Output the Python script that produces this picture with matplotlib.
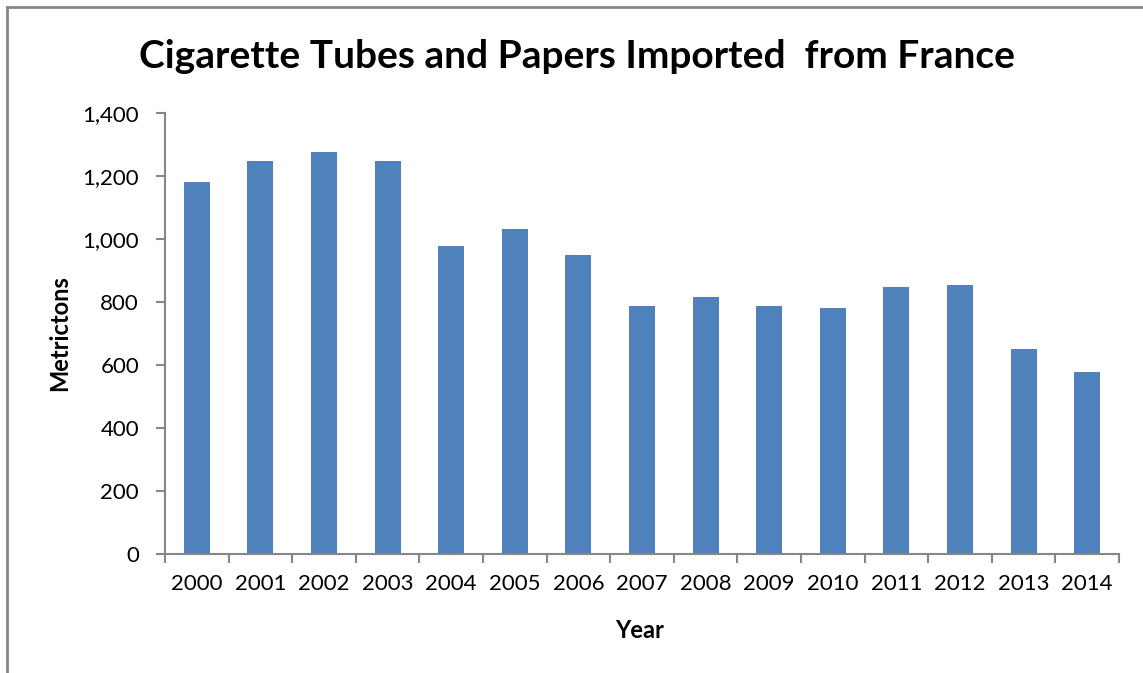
import matplotlib
matplotlib.use("Agg")
import matplotlib.pyplot as plt
from matplotlib.lines import Line2D
from matplotlib.ticker import FuncFormatter, FixedLocator

years = ["2000", "2001", "2002", "2003", "2004", "2005", "2006", "2007",
         "2008", "2009", "2010", "2011", "2012", "2013", "2014"]
metric_tons = [1181, 1247, 1275, 1247, 977, 1031, 949, 787,
               815, 787, 780, 847, 853, 650, 577]

title = "Cigarette Tubes and Papers Imported  from France"
x_label = "Year"
y_label = "Metrictons"

bar_color = "#4F81BD"
axis_color = "#868686"
font = ["Lato", "DejaVu Sans"]

W, H = 1143, 673
PT = 72 / 100  # points per pixel at 100 dpi

fig = plt.figure(figsize=(W / 100, H / 100), dpi=100)
fig.patch.set_facecolor("white")

# outer chart frame (left and top edges visible)
fig.add_artist(Line2D([7 / W, 7 / W], [0, 1 - 7 / H], transform=fig.transFigure,
                      color=axis_color, lw=2))
fig.add_artist(Line2D([7 / W, 1], [1 - 7 / H, 1 - 7 / H], transform=fig.transFigure,
                      color=axis_color, lw=2))

left, right = 165 / W, 1119 / W
bottom, top = 1 - 554 / H, 1 - 112.7 / H
ax = fig.add_axes([left, bottom, right - left, top - bottom])

x = list(range(len(years)))
ax.bar(x, metric_tons, width=0.41, color=bar_color, zorder=2)

ax.set_xlim(-0.5, len(years) - 0.5)
ax.set_ylim(0, 1400)
ax.set_yticks(range(0, 1401, 200))
ax.yaxis.set_major_formatter(FuncFormatter(lambda v, p: f"{int(v):,}"))

ax.set_xticks(x)
ax.set_xticklabels(years)
ax.xaxis.set_minor_locator(FixedLocator([i - 0.5 for i in range(len(years) + 1)]))
ax.tick_params(axis="x", which="major", length=0, pad=20 * PT)
ax.tick_params(axis="x", which="minor", length=9 * PT, width=1.5, color=axis_color)
ax.tick_params(axis="y", length=9 * PT, width=1.5, color=axis_color, pad=17 * PT)

for lbl in ax.get_xticklabels() + ax.get_yticklabels():
    lbl.set_fontfamily(font)
    lbl.set_fontsize(16)

for side in ("top", "right"):
    ax.spines[side].set_visible(False)
for side in ("left", "bottom"):
    ax.spines[side].set_color(axis_color)
    ax.spines[side].set_linewidth(1.5)

fig.text(640 / W, 1 - 630 / H, x_label, ha="center", va="center",
         fontfamily=font, fontsize=17, fontweight="bold")
fig.text(60 / W, 1 - 333 / H, y_label, ha="center", va="center", rotation=90,
         fontfamily=font, fontsize=17, fontweight="bold")

fig.text(577 / W, 1 - 56 / H, title, ha="center", va="center",
         fontfamily=font, fontsize=28, fontweight="bold")

fig.savefig("out.png", dpi=100, facecolor="white")
